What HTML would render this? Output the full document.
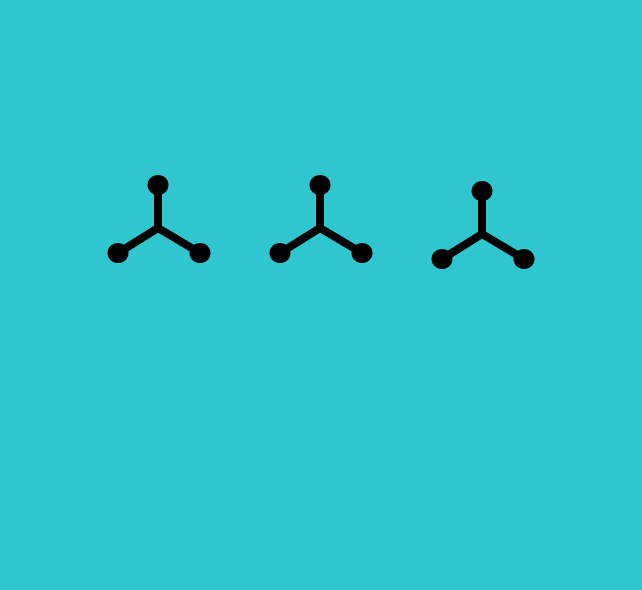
<!DOCTYPE html>
<html><head><meta charset="utf-8"><style>
html,body{margin:0;padding:0;background:#30C6CF;}
svg{display:block;}
</style></head><body>
<svg width="642" height="590" xmlns="http://www.w3.org/2000/svg">
<rect width="642" height="590" fill="#30C6CF"/>
<g id="marks"></g>
</svg>
<script>
const centersX = [158, 320, 482];
const centersY = [228, 228, 234];
const g = document.getElementById('marks');
const NS = 'http://www.w3.org/2000/svg';
centersX.forEach((cx, i) => {
  const cy = centersY[i];
  const grp = document.createElementNS(NS, 'g');
  
  
  const ends = [[cx, cy - 43], [cx - 40, cy + 25], [cx + 42, cy + 25]];
  ends.forEach(([ex, ey]) => {
    const l = document.createElementNS(NS, 'line');
    l.setAttribute('x1', cx); l.setAttribute('y1', cy);
    l.setAttribute('x2', ex); l.setAttribute('y2', ey);
    l.setAttribute('stroke', '#000'); l.setAttribute('stroke-width', '8');
    
    
    grp.appendChild(l);
    const c = document.createElementNS(NS, 'ellipse');
    c.setAttribute('cx', ex); c.setAttribute('cy', ey);
    c.setAttribute('rx', '10.5'); c.setAttribute('ry', '10');
    c.setAttribute('fill', '#000');
    
    
    grp.appendChild(c);
  });
  g.appendChild(grp);
});
</script>
</body></html>
